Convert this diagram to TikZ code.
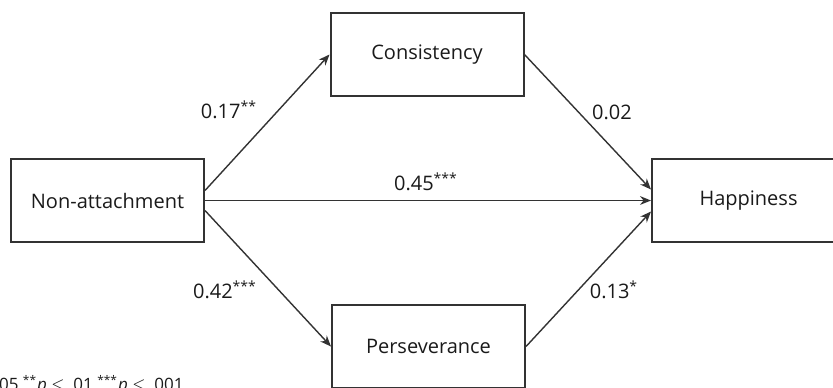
\documentclass[tikz,border=0pt]{standalone}
\usepackage{fontspec}
\setmainfont{Open Sans}
\usetikzlibrary{calc,arrows.meta,positioning}
\definecolor{linec}{HTML}{333333}
\definecolor{textc}{HTML}{1A1A1A}
\tikzset{
  ar/.style={-{Stealth[length=5.5pt,width=4.4pt]},line width=0.7pt,linec},
  box/.style={draw=linec,line width=1pt,minimum width=96.5pt,minimum height=41.5pt,inner sep=0pt,font=\fontsize{10}{12}\selectfont,text=textc},
  lbl/.style={font=\fontsize{10}{12}\selectfont,text=textc,inner sep=0pt}
}
\begin{document}
\begin{tikzpicture}[x=0.5pt,y=-0.5pt]
\useasboundingbox (0,0) rectangle (833,387);
% variables
\node[box] (nonatt) at (107.5,200.5) {Non-attachment};
\node[box] (cons) at (427,54.5) {Consistency};
\node[box] (pers) at (428.5,346.5) {Perseverance};
\node[box] (hap) at (748.5,200.5) {Happiness};
% paths
\draw[ar] ([yshift=5pt]nonatt.east) -- (cons.west);
\draw[ar] (nonatt.east) -- (hap.west);
\draw[ar] ([yshift=-5pt]nonatt.east) -- (pers.west);
\draw[ar] (cons.east) -- ([yshift=5.5pt]hap.west);
\draw[ar] (pers.east) -- ([yshift=-5.5pt]hap.west);
% coefficients
\node[lbl] (a1) at (229,110) {0.17\textsuperscript{**}};
\node[lbl] (b1) at (612,112) {0.02};
\node[lbl] (c1) at (426,182) {0.45\textsuperscript{***}};
\node[lbl] (a2) at (225,290) {0.42\textsuperscript{***}};
\node[lbl] (b2) at (614,290) {0.13\textsuperscript{*}};
% note (cut at the lower edge, as printed)
\node[lbl,anchor=base east,font=\fontsize{8.5}{10}\selectfont] (note) at (184,390)
  {\textsuperscript{*}\textit{p} $\le$ .05 \textsuperscript{**}\textit{p} $\le$ .01 \textsuperscript{***}\textit{p} $\le$ .001};
\end{tikzpicture}
\end{document}
